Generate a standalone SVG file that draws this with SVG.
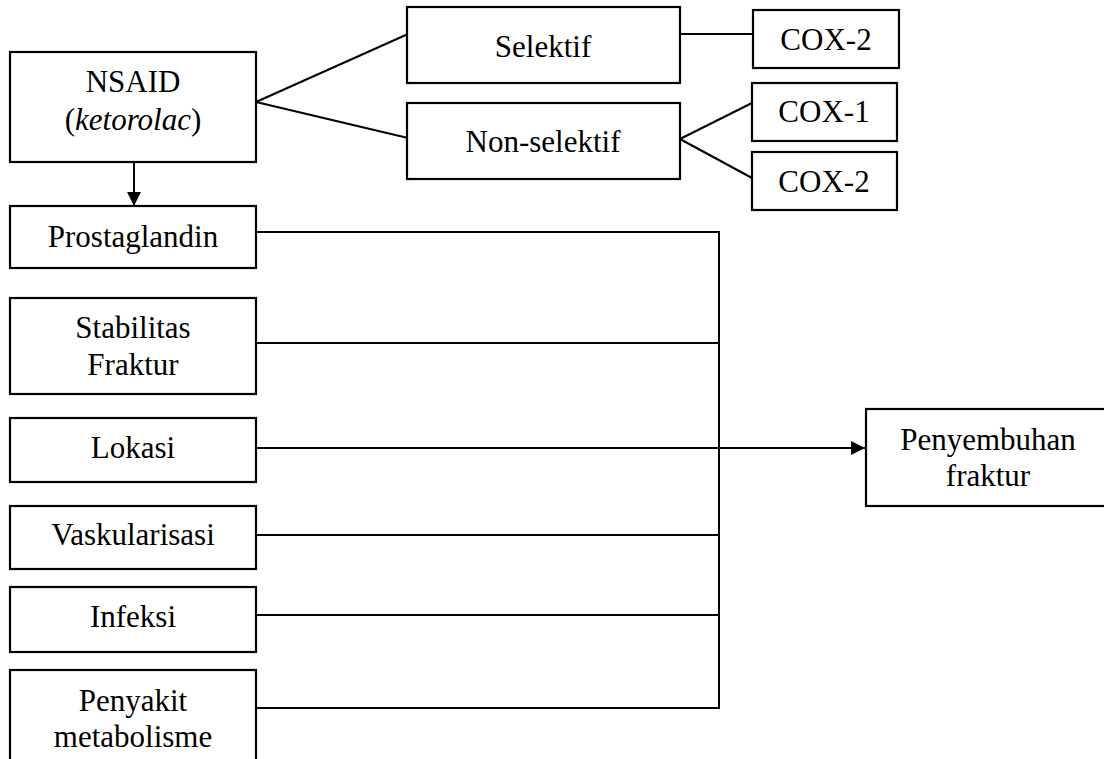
<svg xmlns="http://www.w3.org/2000/svg" width="1104" height="759" viewBox="0 0 1104 759">
<style>
.box{fill:#fff;stroke:#000;stroke-width:2.2}
.t{font-family:'Liberation Serif','Times New Roman',Tinos,'DejaVu Serif',serif;font-size:31px;fill:#000;text-anchor:middle}
.c{fill:none;stroke:#000;stroke-width:2}
</style>
<defs>
<marker id="ah" markerWidth="14" markerHeight="14" viewBox="0 0 14 14" refX="14" refY="7" orient="auto" markerUnits="userSpaceOnUse">
<path d="M0,0 L14,7 L0,14 Z" fill="#000"/>
</marker>
</defs>
<rect width="1104" height="759" fill="#fff"/>
<g id="connectors">
<line class="c" x1="256" y1="102" x2="408" y2="34"/>
<line class="c" x1="256" y1="102" x2="408" y2="138"/>
<line class="c" x1="680" y1="34" x2="753" y2="34"/>
<line class="c" x1="680" y1="139" x2="752" y2="103"/>
<line class="c" x1="680" y1="139" x2="752" y2="178"/>
<line class="c" x1="134" y1="162" x2="134" y2="206" marker-end="url(#ah)"/>
<line class="c" x1="256" y1="232" x2="719" y2="232"/>
<line class="c" x1="256" y1="343" x2="719" y2="343"/>
<line class="c" x1="256" y1="535" x2="719" y2="535"/>
<line class="c" x1="256" y1="615" x2="719" y2="615"/>
<line class="c" x1="256" y1="708" x2="719" y2="708"/>
<line class="c" x1="719" y1="231" x2="719" y2="709"/>
<line class="c" x1="256" y1="448" x2="865" y2="448" marker-end="url(#ah)"/>
</g>
<g font-family="'Liberation Serif','Times New Roman',Tinos,'DejaVu Serif',serif" font-size="31">
<g id="nsaid"><rect class="box" x="10" y="52" width="246" height="110"/><text class="t" x="133" y="92">NSAID</text><text class="t" x="133" y="130">(<tspan font-style="italic">ketorolac</tspan>)</text></g>
<g id="selektif"><rect class="box" x="407" y="7" width="273" height="76"/><text class="t" x="543" y="57">Selektif</text></g>
<g id="nonselektif"><rect class="box" x="407" y="103" width="273" height="76"/><text class="t" x="543" y="152">Non-selektif</text></g>
<g id="cox2a"><rect class="box" x="753" y="10" width="146" height="58"/><text class="t" x="826" y="50">COX-2</text></g>
<g id="cox1"><rect class="box" x="752" y="83" width="145" height="58"/><text class="t" x="824" y="122">COX-1</text></g>
<g id="cox2b"><rect class="box" x="752" y="152" width="145" height="58"/><text class="t" x="824" y="192">COX-2</text></g>
<g id="prostaglandin"><rect class="box" x="10" y="206" width="246" height="62"/><text class="t" x="133" y="247">Prostaglandin</text></g>
<g id="stabilitas"><rect class="box" x="10" y="298" width="246" height="96"/><text class="t" x="133" y="338">Stabilitas</text><text class="t" x="133" y="375">Fraktur</text></g>
<g id="lokasi"><rect class="box" x="10" y="418" width="246" height="64"/><text class="t" x="133" y="458">Lokasi</text></g>
<g id="vaskularisasi"><rect class="box" x="10" y="506" width="246" height="63"/><text class="t" x="133" y="545">Vaskularisasi</text></g>
<g id="infeksi"><rect class="box" x="10" y="587" width="246" height="65"/><text class="t" x="133" y="627">Infeksi</text></g>
<g id="penyakit"><rect class="box" x="10" y="670" width="246" height="100"/><text class="t" x="133" y="711">Penyakit</text><text class="t" x="133" y="747">metabolisme</text></g>
<g id="penyembuhan"><rect class="box" x="866" y="409" width="245" height="97"/><text class="t" x="988" y="450">Penyembuhan</text><text class="t" x="988" y="486">fraktur</text></g>
</g>
</svg>
